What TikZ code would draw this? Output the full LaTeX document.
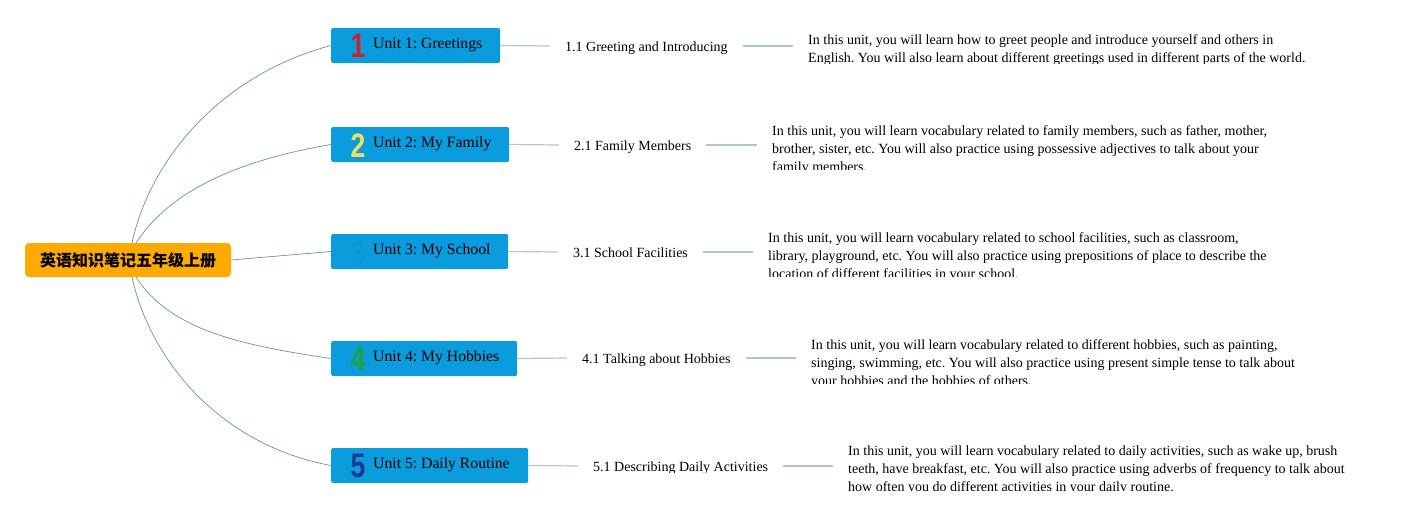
\documentclass[tikz,border=0pt]{standalone}
\usepackage{fontspec}
\usepackage{graphicx}
\setmainfont{Liberation Serif}
\newfontfamily\cjk{Noto Sans CJK SC}
\newfontfamily\numfont{Liberation Sans}
\frenchspacing
\definecolor{rootfill}{HTML}{FFAA00}
\definecolor{unitfill}{HTML}{0B9CDD}
\definecolor{branch}{HTML}{5E9C8C}
\definecolor{subline}{HTML}{A9CCC4}
\definecolor{nred}{HTML}{D2202F}
\definecolor{nyellow}{HTML}{F0DF5E}
\definecolor{nblue}{HTML}{0B97DA}
\definecolor{ngreen}{HTML}{1DA33A}
\definecolor{ndark}{HTML}{1F3A93}
\newcommand{\bignum}[1]{\scalebox{0.78}[1]{#1}}
\begin{document}
\begin{tikzpicture}[x=1pt,y=-1pt,
  rootbox/.style={fill=rootfill,rounded corners=4pt,minimum width=206pt,minimum height=34pt,inner sep=0pt,
    font=\cjk\bfseries\fontsize{16}{18}\selectfont},
  unitbox/.style={fill=unitfill,rounded corners=2pt,minimum height=35pt,inner sep=0pt,anchor=west},
  unittext/.style={font=\fontsize{15.7}{18}\selectfont,inner sep=0pt,anchor=west},
  numstyle/.style={font=\numfont\bfseries\fontsize{34}{34}\selectfont,inner sep=0pt},
  subtext/.style={font=\fontsize{14}{18}\selectfont,inner xsep=15pt,inner ysep=0pt,anchor=west,
    text height=11.5pt,text depth=0pt},
  para/.style={font=\fontsize{14}{18}\selectfont,inner xsep=15pt,inner ysep=0pt,anchor=north west,align=left},
  branchline/.style={draw=branch,line width=0.7pt},
  subl/.style={draw=subline,line width=1.2pt}]
\useasboundingbox (0,0) rectangle (1408,520);

\node[rootbox] (root) at (128,260) {英语知识笔记五年级上册};

% unit boxes
\node[unitbox,minimum width=169pt] (u1) at (331,45.5) {};
\node[unitbox,minimum width=178pt] (u2) at (331,144.5) {};
\node[unitbox,minimum width=177pt] (u3) at (331,251.5) {};
\node[unitbox,minimum width=186pt] (u4) at (331,358.5) {};
\node[unitbox,minimum width=197pt] (u5) at (331,465.5) {};

\node[numstyle,text=nred] (n1) at (358,46) {\bignum{1}};
\node[numstyle,text=nyellow] (n2) at (358,146) {\bignum{2}};
\node[numstyle,text=nblue] (n3) at (358,253) {\bignum{3}};
\node[numstyle,text=ngreen] (n4) at (358,359) {\bignum{4}};
\node[numstyle,text=ndark] (n5) at (358,466) {\bignum{5}};

\node[unittext] (t1) at (373,45) {Unit 1: Greetings};
\node[unittext] (t2) at (373,144) {Unit 2: My Family};
\node[unittext] (t3) at (373,251) {Unit 3: My School};
\node[unittext] (t4) at (373,358) {Unit 4: My Hobbies};
\node[unittext] (t5) at (373,465) {Unit 5: Daily Routine};

% root connectors
\draw[branchline] (132,243) .. controls (150,160) and (220,75) .. (u1.west);
\draw[branchline] (136,243) .. controls (170,190) and (240,160) .. (u2.west);
\draw[branchline] (root.east) -- (u3.west);
\draw[branchline] (136,277) .. controls (170,330) and (240,345) .. (u4.west);
\draw[branchline] (132,277) .. controls (150,360) and (220,445) .. (u5.west);

% sub labels (clipped at bottom)
\begin{scope}\clip (540,20) rectangle (760,53);
\node[subtext] (s1) at (550,46) {1.1 Greeting and Introducing};\end{scope}
\begin{scope}\clip (540,120) rectangle (760,152);
\node[subtext] (s2) at (559,145) {2.1 Family Members};\end{scope}
\begin{scope}\clip (540,230) rectangle (760,259);
\node[subtext] (s3) at (558,252) {3.1 School Facilities};\end{scope}
\begin{scope}\clip (540,335) rectangle (800,365);
\node[subtext] (s4) at (567,358) {4.1 Talking about Hobbies};\end{scope}
\begin{scope}\clip (560,440) rectangle (840,472);
\node[subtext] (s5) at (578,466) {5.1 Describing Daily Activities};\end{scope}

% paragraphs (clipped at bottom)
\begin{scope}\clip (780,20) rectangle (1400,63);
\node[para] (p1) at (793,34) {In this unit, you will learn how to greet people and introduce yourself and others in\\
English. You will also learn about different greetings used in different parts of the world.};\end{scope}
\begin{scope}\clip (750,115) rectangle (1400,169);
\node[para] (p2) at (757,125) {In this unit, you will learn vocabulary related to family members, such as father, mother,\\
brother, sister, etc. You will also practice using possessive adjectives to talk about your\\
family members.};\end{scope}
\begin{scope}\clip (750,222) rectangle (1400,276);
\node[para] (p3) at (753,232) {In this unit, you will learn vocabulary related to school facilities, such as classroom,\\
library, playground, etc. You will also practice using prepositions of place to describe the\\
location of different facilities in your school.};\end{scope}
\begin{scope}\clip (790,330) rectangle (1400,383);
\node[para] (p4) at (796,339) {In this unit, you will learn vocabulary related to different hobbies, such as painting,\\
singing, swimming, etc. You will also practice using present simple tense to talk about\\
your hobbies and the hobbies of others.};\end{scope}
\begin{scope}\clip (830,436) rectangle (1400,490);
\node[para] (p5) at (833,446) {In this unit, you will learn vocabulary related to daily activities, such as wake up, brush\\
teeth, have breakfast, etc. You will also practice using adverbs of frequency to talk about\\
how often you do different activities in your daily routine.};\end{scope}

% sub connectors
\draw[subl] (u1.east) -- (s1.west);
\draw[subl] (u2.east) -- (s2.west);
\draw[subl] (u3.east) -- (s3.west);
\draw[subl] (u4.east) -- (s4.west);
\draw[subl] (u5.east) -- (s5.west);
\draw[subl] (s1.east) -- (s1.east -| p1.west);
\draw[subl] (s2.east) -- (s2.east -| p2.west);
\draw[subl] (s3.east) -- (s3.east -| p3.west);
\draw[subl] (s4.east) -- (s4.east -| p4.west);
\draw[subl] (s5.east) -- (s5.east -| p5.west);
\end{tikzpicture}
\end{document}
